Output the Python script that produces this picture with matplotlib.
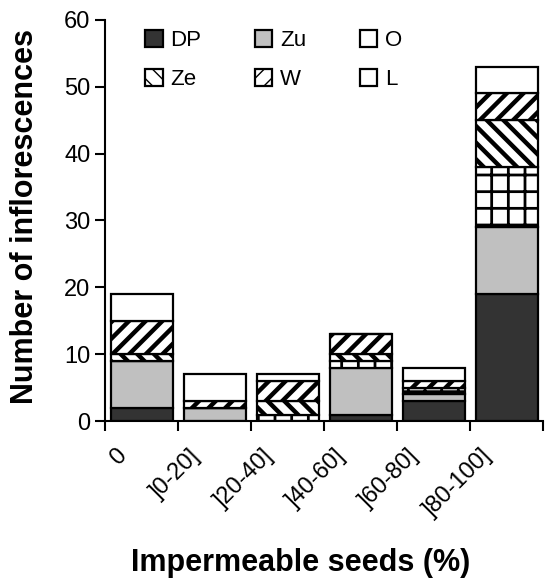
import matplotlib
matplotlib.use('Agg')
import matplotlib.pyplot as plt
import matplotlib.transforms as mtransforms
from matplotlib.patches import Patch
import numpy as np

categories = ['0', ']0-20]', ']20-40]', ']40-60]', ']60-80]', ']80-100]']
DP = [2, 0, 0, 1, 3, 19]
Zu = [7, 2, 0, 7, 1, 10]
O = [0, 0, 1, 1, 1, 9]
Ze = [1, 0, 2, 1, 0, 7]
W = [5, 1, 3, 3, 1, 4]
L = [4, 4, 1, 0, 2, 4]

series = [('DP', DP), ('Zu', Zu), ('O', O), ('Ze', Ze), ('W', W), ('L', L)]
styles = {
    'DP': dict(color='#333333', hatch=None, hlw=1.0),
    'Zu': dict(color='#c0c0c0', hatch=None, hlw=1.0),
    'O': dict(color='white', hatch='+', hlw=2.0),
    'Ze': dict(color='white', hatch='\\\\', hlw=3.2),
    'W': dict(color='white', hatch='//', hlw=3.2),
    'L': dict(color='white', hatch=None, hlw=1.0),
}

plt.rcParams['font.family'] = ['Liberation Sans', 'DejaVu Sans']

fig = plt.figure(figsize=(5.47, 5.81), dpi=100)
ax = fig.add_axes([0.192, 0.275, 0.801, 0.691])

x = np.arange(len(categories))
bottom = np.zeros(len(categories))
handles = {}
for name, vals in series:
    st = styles[name]
    plt.rcParams['hatch.linewidth'] = st['hlw']
    bars = ax.bar(x, vals, 0.85, bottom=bottom, color=st['color'],
                  edgecolor='black', linewidth=1.6, hatch=st['hatch'], label=name)
    for b in bars:
        if hasattr(b, 'set_hatch_linewidth'):
            b.set_hatch_linewidth(st['hlw'])
    handles[name] = bars
    bottom += np.array(vals)

# the small legend key for O shows up plain white in the original
handles['O'] = Patch(facecolor='white', edgecolor='black', linewidth=1.6)

ax.set_xlim(-0.5, 5.5)
ax.set_ylim(0, 60)
ax.set_yticks(range(0, 61, 10))
ax.set_xticks(np.arange(-0.5, 6, 1))
ax.set_xticklabels([])
ax.set_xticks(x, minor=True)
ax.set_xticklabels(categories, minor=True, rotation=45, ha='right',
                   rotation_mode='anchor', fontsize=17)
ax.tick_params(axis='x', which='minor', length=0, pad=14)
ax.tick_params(axis='both', which='major', direction='out', length=7,
               width=1.5, labelsize=17)
# shift the rotated category labels left, like the original
shift = mtransforms.ScaledTranslation(-26 / 100, -4 / 100, fig.dpi_scale_trans)
for lab in ax.get_xticklabels(minor=True):
    lab.set_transform(lab.get_transform() + shift)

ax.spines['top'].set_visible(False)
ax.spines['right'].set_visible(False)
ax.spines['left'].set_linewidth(1.5)
ax.spines['bottom'].set_linewidth(1.5)

ax.set_ylabel('Number of inflorescences', fontsize=22, fontweight='bold', va='center')
ax.yaxis.set_label_coords(-0.183, 0.51)
ax.set_xlabel('Impermeable seeds (%)', fontsize=22, fontweight='bold', va='top')
ax.xaxis.set_label_coords(0.447, -0.315)

order = ['DP', 'Ze', 'Zu', 'W', 'O', 'L']
leg = ax.legend([handles[n] for n in order], order, ncol=3, frameon=False,
                loc='upper left', bbox_to_anchor=(0.045, 1.025), fontsize=16,
                handlelength=0.8, handleheight=0.8, handletextpad=0.35,
                columnspacing=2.4, labelspacing=0.8)

fig.savefig('out.png', dpi=100)
